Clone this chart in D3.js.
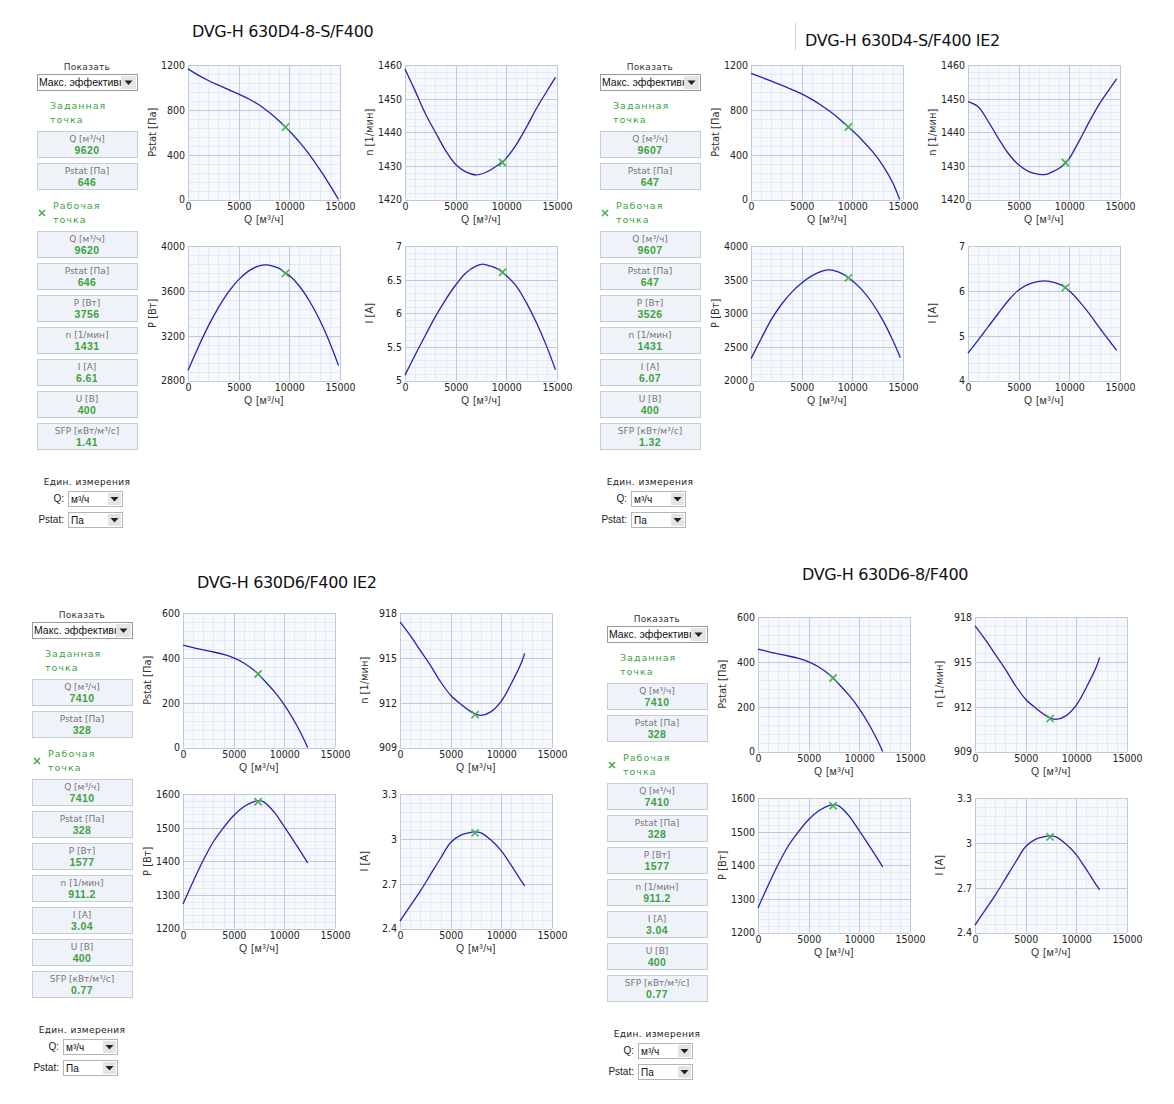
<!DOCTYPE html>
<html><head><meta charset="utf-8">
<script src="https://cdn.jsdelivr.net/npm/d3@7"></script>
<style>body{margin:0;background:#fff}svg{display:block}</style>
</head><body><svg id="c" width="1174" height="1104"></svg>
<script>
// ---------- DATA ----------
const titles = ["DVG-H 630D4-8-S/F400", "DVG-H 630D4-S/F400 IE2", "DVG-H 630D6/F400 IE2", "DVG-H 630D6-8/F400"];
const opQ = [9620, 9607, 7410, 7410];
const opPstat = [646, 647, 328, 328];
const opP = [3756, 3526, 1577, 1577];
const opN = [1431, 1431, 911.2, 911.2];
const opI = [6.61, 6.07, 3.04, 3.04];
const opU = [400, 400, 400, 400];
const opSFP = [1.41, 1.32, 0.77, 0.77];
const qTicks = [0, 5000, 10000, 15000];

// model 1: DVG-H 630D4-8-S/F400
const m1Pstat = [[0,1165],[1000,1110],[2000,1062],[3000,1020],[4000,980],[5000,940],[6000,897],[7000,845],[8000,778],[9000,700],[9620,646],[10000,611],[11000,512],[12000,398],[13000,268],[14000,128],[14850,0]];
const m1N = [[0,1458.8],[1000,1452.3],[2000,1445.6],[3000,1440],[4000,1434.6],[5000,1430.4],[6000,1428.2],[7000,1427.3],[8000,1428.1],[9000,1429.9],[9620,1431.2],[10000,1432.3],[11000,1436.4],[12000,1441.6],[13000,1447.2],[14000,1452.2],[14850,1456.3]];
const m1P = [[0,2890],[1000,3095],[2000,3285],[3000,3450],[4000,3590],[5000,3700],[6000,3778],[7000,3822],[7700,3832],[8000,3830],[9000,3800],[9620,3758],[10000,3736],[11000,3641],[12000,3507],[13000,3339],[14000,3135],[14850,2935]];
const m1I = [[0,5.08],[1000,5.38],[2000,5.67],[3000,5.95],[4000,6.2],[5000,6.42],[6000,6.6],[7000,6.7],[7700,6.73],[8000,6.72],[9000,6.67],[9620,6.61],[10000,6.56],[11000,6.4],[12000,6.15],[13000,5.85],[14000,5.5],[14850,5.16]];

// model 2: DVG-H 630D4-S/F400 IE2
const m2Pstat = [[0,1126],[1000,1092],[2000,1057],[3000,1020],[4000,982],[5000,942],[6000,893],[7000,836],[8000,771],[9000,696],[9607,647],[10000,615],[11000,527],[12000,427],[13000,305],[14000,147],[14670,0]];
const m2N = [[0,1449.1],[1000,1447.6],[2000,1443.2],[3000,1438.2],[4000,1433.6],[5000,1430.3],[6000,1428.3],[7000,1427.5],[7500,1427.4],[8000,1427.8],[9000,1429.3],[9607,1430.8],[10000,1432.2],[11000,1437.6],[12000,1443.3],[13000,1448.6],[14000,1453],[14670,1455.9]];
const m2P = [[0,2325],[1000,2620],[2000,2905],[3000,3130],[4000,3310],[5000,3450],[6000,3555],[7000,3625],[7600,3645],[8000,3640],[9000,3590],[9607,3526],[10000,3485],[11000,3340],[12000,3145],[13000,2898],[14000,2596],[14740,2340]];
const m2I = [[0,4.61],[1000,4.9],[2000,5.2],[3000,5.5],[4000,5.79],[5000,6.02],[6000,6.15],[7000,6.21],[7600,6.22],[8000,6.21],[9000,6.15],[9607,6.07],[10000,6.0],[11000,5.76],[12000,5.48],[13000,5.17],[14000,4.87],[14670,4.67]];

// model 3: DVG-H 630D6/F400 IE2 and DVG-H 630D6-8/F400 (same curves)
const m3Pstat = [[0,457],[1000,446],[2000,436],[3000,426],[4000,415],[5000,400],[6000,377],[7000,345],[7410,328],[8000,300],[9000,250],[10000,190],[11000,117],[12000,30],[12300,0]];
const m3N = [[0,917.4],[1000,916.5],[2000,915.5],[3000,914.5],[4000,913.4],[5000,912.5],[6000,911.9],[7000,911.4],[7410,911.25],[8000,911.15],[9000,911.4],[10000,912.1],[11000,913.3],[12000,914.7],[12300,915.3]];
const m3P = [[0,1273],[1000,1340],[2000,1403],[3000,1458],[4000,1500],[5000,1536],[6000,1562],[7000,1577],[7500,1580],[8000,1576],[9000,1546],[10000,1502],[11000,1457],[12000,1410],[12300,1395]];
const m3I = [[0,2.45],[1000,2.55],[2000,2.65],[3000,2.76],[4000,2.87],[5000,2.975],[6000,3.025],[7000,3.043],[7400,3.047],[8000,3.04],[9000,2.99],[10000,2.92],[11000,2.82],[12000,2.715],[12300,2.686]];

const pstatTicks = [[0,400,800,1200],[0,400,800,1200],[0,200,400,600],[0,200,400,600]];
const nTicks = [[1420,1430,1440,1450,1460],[1420,1430,1440,1450,1460],[909,912,915,918],[909,912,915,918]];
const pTicks = [[2800,3200,3600,4000],[2000,2500,3000,3500,4000],[1200,1300,1400,1500,1600],[1200,1300,1400,1500,1600]];
const iTicks = [[5,5.5,6,6.5,7],[4,5,6,7],[2.4,2.7,3,3.3],[2.4,2.7,3,3.3]];

const boxLabels = ["Q [м³/ч]", "Pstat [Па]", "P [Вт]", "n [1/мин]", "I [А]", "U [В]", "SFP [кВт/м³/с]"];
const chartTitles = ["Pstat [Па]", "n [1/мин]", "P [Вт]", "I [А]"];

// ---------- LAYOUT ----------
const panels = [
  {x0: 37, y0: 65, tx: 192, ty: 31, sep: false},
  {x0: 600, y0: 65, tx: 805, ty: 40, sep: true},
  {x0: 32, y0: 613, tx: 197, ty: 582, sep: false},
  {x0: 607, y0: 617, tx: 802, ty: 574, sep: false}
];
const curves = [[m1Pstat, m1N, m1P, m1I], [m2Pstat, m2N, m2P, m2I], [m3Pstat, m3N, m3P, m3I], [m3Pstat, m3N, m3P, m3I]];
const PW = 152, PH = 134.5;

function has(name) {
  const c = document.createElement('canvas').getContext('2d');
  c.font = `20px "${name}", monospace`; const a = c.measureText('15000 Pstat abc').width;
  c.font = '20px monospace'; const b = c.measureText('15000 Pstat abc').width;
  return a !== b;
}
const narrow = has('Liberation Sans Narrow') ? '"Liberation Sans Narrow"' : (has('DejaVu Sans Condensed') ? '"DejaVu Sans Condensed"' : '"Liberation Sans"');
const TICKF = narrow + ', "Liberation Sans", Arial, sans-serif';
const SANS = '"Liberation Sans", Arial, sans-serif';
const VERD = '"DejaVu Sans", Verdana, sans-serif';
const GREEN = '#3fa13f';

const svg = d3.select('#c');
svg.append('rect').attr('width', 1174).attr('height', 1104).attr('fill', '#fff');

function drawChart(g, px, py, data, ticks, mq, mv, ytitle) {
  const x = d3.scaleLinear().domain([0, 15000]).range([px, px + PW]);
  const y = d3.scaleLinear().domain([ticks[0], ticks[ticks.length - 1]]).range([py + PH, py]);
  g.append('rect').attr('x', px).attr('y', py).attr('width', PW).attr('height', PH).attr('fill', '#f5f8fc');
  // minor grid
  const xm = d3.range(0, 15001, 1000).filter(v => v % 5000 !== 0);
  const step = (ticks[1] - ticks[0]) / 5;
  const ym = [];
  for (let i = 0; i < ticks.length - 1; i++) for (let k = 1; k < 5; k++) ym.push(ticks[i] + k * step);
  g.selectAll(null).data(xm).enter().append('line')
    .attr('x1', d => Math.round(x(d)) + 0.5).attr('x2', d => Math.round(x(d)) + 0.5)
    .attr('y1', py).attr('y2', py + PH).attr('stroke', '#e5e9f1');
  g.selectAll(null).data(ym).enter().append('line')
    .attr('y1', d => Math.round(y(d)) + 0.5).attr('y2', d => Math.round(y(d)) + 0.5)
    .attr('x1', px).attr('x2', px + PW).attr('stroke', '#e5e9f1');
  // major grid
  g.selectAll(null).data(qTicks).enter().append('line')
    .attr('x1', d => Math.round(x(d)) + 0.5).attr('x2', d => Math.round(x(d)) + 0.5)
    .attr('y1', py).attr('y2', py + PH).attr('stroke', '#bfc9d8');
  g.selectAll(null).data(ticks).enter().append('line')
    .attr('y1', d => Math.round(y(d)) + 0.5).attr('y2', d => Math.round(y(d)) + 0.5)
    .attr('x1', px).attr('x2', px + PW).attr('stroke', '#bfc9d8');
  // tick labels via d3 axes (lines hidden)
  const ax = g.append('g').attr('transform', `translate(0,${py + PH})`)
    .call(d3.axisBottom(x).tickValues(qTicks).tickSize(0).tickPadding(3).tickFormat(d3.format('d')));
  ax.select('.domain').remove();
  ax.selectAll('text').attr('font-family', TICKF).attr('font-size', 10.5).attr('fill', '#222').attr('dy', '0.75em');
  const ay = g.append('g').attr('transform', `translate(${px},0)`)
    .call(d3.axisLeft(y).tickValues(ticks).tickSize(0).tickPadding(3).tickFormat(d => String(d)));
  ay.select('.domain').remove();
  ay.selectAll('text').attr('font-family', TICKF).attr('font-size', 10.5).attr('fill', '#222');
  // axis titles
  g.append('text').attr('x', px + PW / 2).attr('y', py + PH + 20).attr('dy', '0.35em')
    .attr('text-anchor', 'middle').attr('font-family', SANS).attr('font-size', 10.5).attr('letter-spacing', 0.5)
    .attr('fill', '#333').text('Q [м³/ч]');
  g.append('text').attr('transform', `translate(${px - 36},${py + PH / 2}) rotate(-90)`).attr('dy', '0.35em')
    .attr('text-anchor', 'middle').attr('font-family', TICKF).attr('font-size', 11).attr('fill', '#333').text(ytitle);
  // curve
  g.append('path').datum(data).attr('fill', 'none').attr('stroke', '#2424b4').attr('stroke-width', 1.3)
    .attr('d', d3.line().x(d => x(d[0])).y(d => y(d[1])).curve(d3.curveCatmullRom.alpha(0.5)));
  // operating point marker
  const mx = x(mq), my = y(mv), s = 3.6;
  g.append('path').attr('d', `M${mx - s},${my - s}L${mx + s},${my + s}M${mx - s},${my + s}L${mx + s},${my - s}`)
    .attr('stroke', '#4cb04c').attr('stroke-width', 1.6).attr('fill', 'none');
}

function dropArrow(g, bx, by, bw, bh) {
  g.append('rect').attr('x', bx).attr('y', by).attr('width', bw).attr('height', bh).attr('fill', '#e4e4e4');
  const cx = bx + bw / 2, cy = by + bh / 2;
  g.append('path').attr('d', `M${cx - 4},${cy - 2}L${cx + 4},${cy - 2}L${cx},${cy + 2.5}Z`).attr('fill', '#222');
}

function drawSidebar(g, x0, y0, pi) {
  const cx = x0 + 50;
  g.append('text').attr('x', cx).attr('y', y0 + 2).attr('dy', '0.35em').attr('text-anchor', 'middle')
    .attr('font-family', VERD).attr('font-size', 9).attr('letter-spacing', 0.3).attr('fill', '#333').text('Показать');
  // dropdown
  g.append('rect').attr('x', x0 + 0.5).attr('y', y0 + 9.5).attr('width', 100).attr('height', 16)
    .attr('fill', '#fff').attr('stroke', '#9a9a9a');
  const clipId = 'clp' + pi;
  g.append('clipPath').attr('id', clipId).append('rect').attr('x', x0 + 1).attr('y', y0 + 9).attr('width', 83).attr('height', 16);
  g.append('text').attr('x', x0 + 2).attr('y', y0 + 17.5).attr('dy', '0.35em').attr('clip-path', `url(#${clipId})`)
    .attr('font-family', SANS).attr('font-size', 10.5).attr('fill', '#111').text('Макс. эффективность');
  dropArrow(g, x0 + 84, y0 + 11, 15, 13);
  // given point
  const green = (t, x, y) => g.append('text').attr('x', x).attr('y', y).attr('dy', '0.35em')
    .attr('font-family', VERD).attr('font-size', 9.5).attr('letter-spacing', 1).attr('fill', GREEN).text(t);
  green('Заданная', x0 + 13, y0 + 41);
  green('точка', x0 + 13, y0 + 55);
  const box = (by, label, value) => {
    g.append('rect').attr('x', x0 + 0.5).attr('y', by + 0.5).attr('width', 100).attr('height', 26)
      .attr('fill', '#eff3f9').attr('stroke', '#c4cedb');
    g.append('text').attr('x', cx).attr('y', by + 8).attr('dy', '0.35em').attr('text-anchor', 'middle')
      .attr('font-family', VERD).attr('font-size', 9).attr('fill', '#777').text(label);
    g.append('text').attr('x', cx).attr('y', by + 19).attr('dy', '0.35em').attr('text-anchor', 'middle')
      .attr('font-family', SANS).attr('font-weight', 'bold').attr('font-size', 10.5).attr('letter-spacing', 0.4)
      .attr('fill', GREEN).text(value);
  };
  box(y0 + 66, boxLabels[0], String(opQ[pi]));
  box(y0 + 98, boxLabels[1], String(opPstat[pi]));
  // working point
  const mx = x0 + 5, my = y0 + 148, s = 3;
  g.append('path').attr('d', `M${mx - s},${my - s}L${mx + s},${my + s}M${mx - s},${my + s}L${mx + s},${my - s}`)
    .attr('stroke', '#4cb04c').attr('stroke-width', 1.6);
  green('Рабочая', x0 + 16, y0 + 141);
  green('точка', x0 + 16, y0 + 155);
  const vals = [opQ[pi], opPstat[pi], opP[pi], opN[pi], opI[pi], opU[pi], opSFP[pi]];
  vals.forEach((v, i) => box(y0 + 166 + i * 32, boxLabels[i], String(v)));
  // units
  g.append('text').attr('x', cx).attr('y', y0 + 417).attr('dy', '0.35em').attr('text-anchor', 'middle')
    .attr('font-family', VERD).attr('font-size', 9).attr('letter-spacing', 0.4).attr('fill', '#222').text('Един. измерения');
  const sel = (sy, label, val) => {
    g.append('text').attr('x', x0 + 27).attr('y', sy + 7.5).attr('dy', '0.35em').attr('text-anchor', 'end')
      .attr('font-family', SANS).attr('font-size', 10).attr('fill', '#222').text(label);
    g.append('rect').attr('x', x0 + 31.5).attr('y', sy + 0.5).attr('width', 54).attr('height', 15)
      .attr('fill', '#fff').attr('stroke', '#b5b5b5');
    g.append('text').attr('x', x0 + 34).attr('y', sy + 8).attr('dy', '0.35em')
      .attr('font-family', SANS).attr('font-size', 10).attr('fill', '#111').text(val);
    dropArrow(g, x0 + 71, sy + 2, 13, 12);
  };
  sel(y0 + 426, 'Q:', 'м³/ч');
  sel(y0 + 447, 'Pstat:', 'Па');
}

panels.forEach((p, pi) => {
  const g = svg.append('g');
  g.append('text').attr('x', p.tx).attr('y', p.ty).attr('dy', '0.35em')
    .attr('font-family', VERD).attr('font-size', 16).attr('letter-spacing', -0.35).attr('fill', '#111').text(titles[pi]);
  if (p.sep) g.append('line').attr('x1', p.tx - 9.5).attr('x2', p.tx - 9.5).attr('y1', p.ty - 17).attr('y2', p.ty + 10).attr('stroke', '#d0d0d0');
  drawSidebar(g, p.x0, p.y0, pi);
  const c = curves[pi];
  const cols = [p.x0 + 151, p.x0 + 368], rows = [p.y0, p.y0 + 181];
  drawChart(g, cols[0], rows[0], c[0], pstatTicks[pi], opQ[pi], opPstat[pi], chartTitles[0]);
  drawChart(g, cols[1], rows[0], c[1], nTicks[pi], opQ[pi], opN[pi], chartTitles[1]);
  drawChart(g, cols[0], rows[1], c[2], pTicks[pi], opQ[pi], opP[pi], chartTitles[2]);
  drawChart(g, cols[1], rows[1], c[3], iTicks[pi], opQ[pi], opI[pi], chartTitles[3]);
});
</script></body></html>
